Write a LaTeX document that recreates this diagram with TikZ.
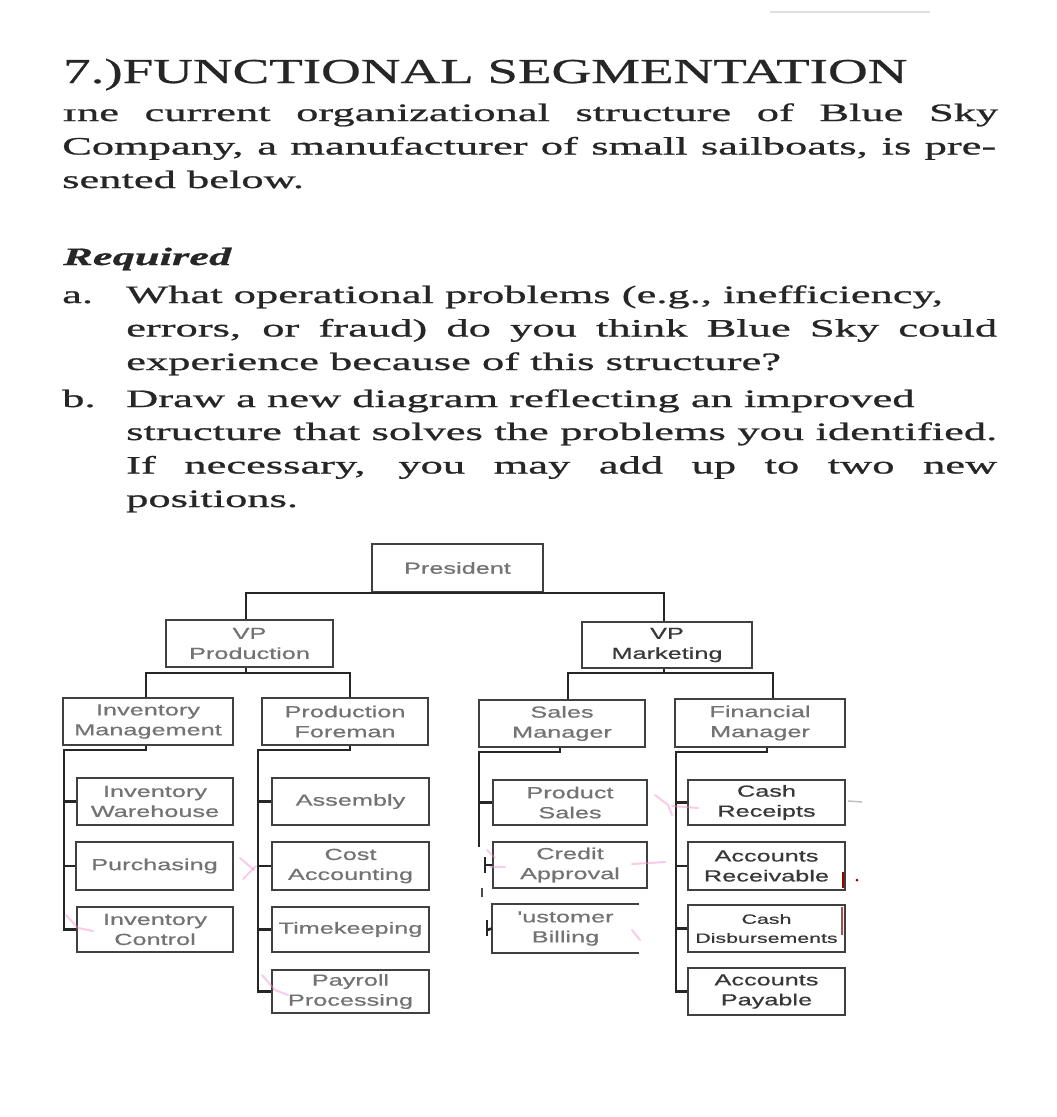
\documentclass[tikz,border=0pt]{standalone}
\usepackage{graphicx}
\usepackage{fontspec}
\setmainfont{Liberation Serif}
\newfontfamily\bodyfont[FakeStretch=1.78,FakeBold=0.9]{Liberation Serif}
\newfontfamily\titlefont[FakeStretch=1.57,FakeBold=0.7]{Liberation Serif}
\newfontfamily\boxfont[FakeStretch=1.58,FakeBold=0.7]{Liberation Sans}
\usetikzlibrary{calc}
\begin{document}
\begin{tikzpicture}[x=1pt,y=-1pt,
  txt/.style={anchor=base west, inner sep=0pt, font=\bodyfont\fontsize{25}{30}\selectfont, text=black!85},
  ttl/.style={anchor=base west, inner sep=0pt, font=\titlefont\fontsize{35}{40}\selectfont, text=black!85},
  box/.style={draw=black!75, line width=2pt, fill=white, inner sep=0pt, align=center,
              font=\boxfont\fontsize{16}{20}\selectfont, text=black!55},
  dbox/.style={box, text=black!78},
  wire/.style={line width=2.6pt, draw=black!85},
  smudge/.style={draw=magenta!45, line width=2pt, opacity=0.45, line cap=round}]
\useasboundingbox (0,0) rectangle (1057,1117);
\fill[white] (0,0) rectangle (1057,1117);
\draw[gray!25, line width=1.5pt] (770,12) -- (930,12);

% ---------- text ----------
\node[ttl] (title) at (63,83) {7.)FUNCTIONAL SEGMENTATION};
\node[txt] (l1) at (62,121) {\makebox[936pt][s]{\scalebox{1}[0.7]{I}ne current organizational structure of Blue Sky}};
\node[txt] (l2) at (62,154.5) {\makebox[934pt][s]{Company, a manufacturer of small sailboats, is pre-}};
\node[txt] (l3) at (62,188) {sented below.};
\node[txt] (req) at (63,265) {\bfseries\itshape Required};
\node[txt] (la) at (62,303) {a.};
\node[txt] (a1) at (126,303) {What operational problems (e.g., inefficiency,};
\node[txt] (a2) at (126,336.5) {\makebox[871pt][s]{errors, or fraud) do you think Blue Sky could}};
\node[txt] (a3) at (126,370) {experience because of this structure?};
\node[txt] (lb) at (62,407) {b.};
\node[txt] (b1) at (126,407) {Draw a new diagram reflecting an improved};
\node[txt] (b2) at (126,440) {\makebox[871pt][s]{structure that solves the problems you identified.}};
\node[txt] (b3) at (126,473.5) {\makebox[871pt][s]{If necessary, you may add up to two new}};
\node[txt] (b4) at (126,507) {positions.};

% ---------- boxes ----------
\node[box, minimum width=171pt, minimum height=48pt] (pres) at (457.5,568) {President};
\node[box, minimum width=167pt, minimum height=47pt] (vpp) at (249.5,643.5) {VP\\Production};
\node[dbox, minimum width=170pt, minimum height=46pt] (vpm) at (667,645) {VP\\Marketing};

\node[box, minimum width=170pt, minimum height=47pt] (im) at (148,721.5) {Inventory\\Management};
\node[box, minimum width=166pt, minimum height=47pt] (pf) at (345,721.5) {Production\\Foreman};
\node[box, minimum width=166pt, minimum height=47pt] (sm) at (562,723.5) {Sales\\Manager};
\node[box, minimum width=170pt, minimum height=48pt] (fm) at (760,723) {Financial\\Manager};

\node[box, minimum width=156pt, minimum height=47pt] (iw) at (155,801.5) {Inventory\\Warehouse};
\node[box, minimum width=157pt, minimum height=48pt] (pu) at (154.5,866) {Purchasing};
\node[box, minimum width=156pt, minimum height=45pt] (ic) at (155,929.5) {Inventory\\Control};

\node[box, minimum width=157pt, minimum height=47pt] (as) at (350.5,801.5) {Assembly};
\node[box, minimum width=157pt, minimum height=48pt] (ca) at (350.5,866) {Cost\\Accounting};
\node[box, minimum width=157pt, minimum height=45pt] (tk) at (350.5,929.5) {Timekeeping};
\node[box, minimum width=157pt, minimum height=43pt] (pp) at (350.5,991.5) {Payroll\\Processing};

\node[box, minimum width=154pt, minimum height=45pt] (ps) at (570,802.5) {Product\\Sales};
\node[box, minimum width=154pt, minimum height=46pt] (cr) at (570,865) {Credit\\Approval};
\node[box, draw=none, minimum width=145pt, minimum height=47pt] (cb) at (565.5,928.5) {'ustomer\\Billing};
\draw[black!75, line width=2pt] (cb.north east) -- (cb.north west) -- (cb.south west) -- (cb.south east);

\node[dbox, minimum width=157pt, minimum height=45pt] (crc) at (766.5,802.5) {Cash\\Receipts};
\node[dbox, minimum width=157pt, minimum height=48pt] (ar) at (766.5,866) {Accounts\\Receivable};
\node[dbox, minimum width=157pt, minimum height=47pt, font=\boxfont\fontsize{13.5}{19}\selectfont] (cd) at (766.5,928.5) {Cash\\Disbursements};
\node[dbox, minimum width=157pt, minimum height=47pt] (ap) at (766.5,991.5) {Accounts\\Payable};

% ---------- connectors ----------
\draw[wire] (vpp.north -| 246,0) |- (pres.south) -| (vpm.north -| 664,0);

\coordinate (vppbus) at (246,673);
\draw[wire] (vpp.south -| 246,0) -- (vppbus);
\draw[wire] (im.north -| 146,0) |- (vppbus) -| (pf.north -| 350,0);

\coordinate (vpmbus) at (664,673);
\draw[wire] (vpm.south -| 664,0) -- (vpmbus);
\draw[wire] (sm.north -| 568,0) |- (vpmbus) -| (fm.north -| 773,0);

% inventory management trunk
\coordinate (imt) at (64,750);
\draw[wire] (im.south -| 146,0) |- (imt) |- (ic.west);
\draw[wire] (imt |- iw.west) -- (iw.west);
\draw[wire] (imt |- pu.west) -- (pu.west);

% production foreman trunk
\coordinate (pft) at (258,750);
\draw[wire] (pf.south -| 350,0) |- (pft) |- (pp.west);
\draw[wire] (pft |- as.west) -- (as.west);
\draw[wire] (pft |- ca.west) -- (ca.west);
\draw[wire] (pft |- tk.west) -- (tk.west);

% sales manager trunk (broken in the scan)
\coordinate (smt) at (479,752);
\coordinate (smend) at (479,847);
\draw[wire] (sm.south -| 560,0) |- (smt) -- (smend);
\draw[wire] (smt |- ps.west) -- (ps.west);
\coordinate (crt) at (485,865);
\draw[wire] ($(crt)+(0,-8)$) -- ($(crt)+(0,8)$);
\draw[wire] (crt) -- (cr.west);
\draw[black!70, line width=2pt] (482,888) -- (482,897);
\coordinate (cbt) at (487,930);
\draw[wire] ($(cbt)+(0,-10)$) -- ($(cbt)+(0,6)$);
\draw[wire] (cbt) -- (cb.west);

% financial manager trunk
\coordinate (fmt) at (676,752);
\draw[wire] (fm.south -| 767,0) |- (fmt) |- (ap.west);
\draw[wire] (fmt |- crc.west) -- (crc.west);
\draw[wire] (fmt |- ar.west) -- (ar.west);
\draw[wire] (fmt |- cd.west) -- (cd.west);

% ---------- scan smudges ----------
\draw[smudge] (240,858) -- (254,870);
\draw[smudge] (243,879) -- (256,866);
\draw[smudge] (66,915) -- (78,928) -- (93,931);
\draw[smudge] (262,975) -- (275,990) -- (288,995);
\draw[smudge] (655,795) -- (668,805) -- (672,815);
\draw[smudge] (672,806) -- (698,808);
\draw[smudge] (487,850) -- (495,858);
\draw[smudge] (490,867) -- (505,867);
\draw[smudge] (632,864) -- (665,862);
\draw[smudge] (632,930) -- (640,940);
\draw[gray!50, line width=1.5pt] (848,801) -- (862,802);
\draw[red!60!black, line width=2.5pt] (843,872) -- (843,888);
\fill[red!60!black] (857,880) circle (1.5);
\draw[red!50!black, line width=1.2pt, opacity=0.7] (842,907) -- (842,935);
\end{tikzpicture}
\end{document}
